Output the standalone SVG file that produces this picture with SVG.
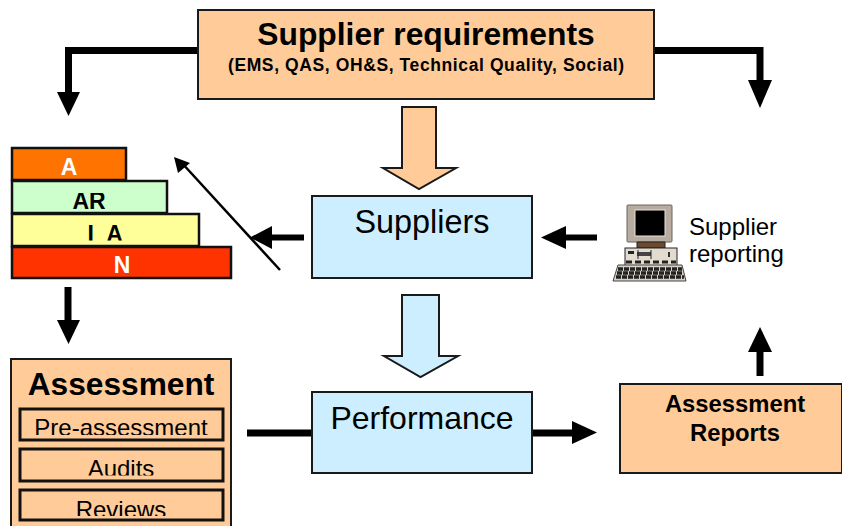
<svg xmlns="http://www.w3.org/2000/svg" width="842" height="526" viewBox="0 0 842 526">
<style>
text{font-family:"Liberation Sans",Arial,sans-serif;text-anchor:middle;fill:#000}
.b{font-weight:bold}
.peach{fill:#ffcc99;stroke:#1a1a1a;stroke-width:2}
.blue{fill:#cceeff;stroke:#1a1a1a;stroke-width:2}
.sub{fill:#ffcc99;stroke:#111;stroke-width:3}
.bar{fill:none;stroke:#000;stroke-width:7}
.ah{fill:#000}
.tier{stroke:#111;stroke-width:2.5}
</style>
<defs>
<clipPath id="c2"><rect x="12" y="193" width="155" height="16"/></clipPath>
<clipPath id="c3"><rect x="12" y="224" width="187" height="16.500"/></clipPath>
<clipPath id="c5"><rect x="20" y="410" width="203" height="25"/></clipPath>
<clipPath id="c6"><rect x="20" y="451" width="203" height="24.500"/></clipPath>
<clipPath id="c7"><rect x="20" y="491" width="203" height="25"/></clipPath>
</defs>
<g id="connectors">
<path class="bar" d="M198 50.500H68.500V95"/><polygon class="ah" points="57,92 80,92 68.500,116"/>
<path class="bar" d="M654 50.500H760V85"/><polygon class="ah" points="748,80 772,80 760,108"/>
<path class="peach" d="M402 107H436V168H456L419 189L383 168H402Z"/>
<path d="M402 295H439V356H458L420.500 377L384 356H402Z" fill="#cceeff" stroke="#1a1a1a" stroke-width="2"/>
<path d="M304 237.500H268" fill="none" stroke="#000" stroke-width="6"/><polygon class="ah" points="250,237.500 272,226 272,249"/>
<path d="M597 237.500H560" fill="none" stroke="#000" stroke-width="6"/><polygon class="ah" points="541,237.500 566,226 566,249"/>
<path d="M68 287V322" fill="none" stroke="#000" stroke-width="7"/><polygon class="ah" points="57,320 80,320 68.500,344"/>
<path d="M247 433H312" fill="none" stroke="#000" stroke-width="7"/>
<path d="M533 433H575" fill="none" stroke="#000" stroke-width="7"/><polygon class="ah" points="572,421 572,444 597,432.500"/>
<path d="M760 376V350" fill="none" stroke="#000" stroke-width="7"/><polygon class="ah" points="748,352 772,352 760,327"/>
<path d="M280 270L181 162" fill="none" stroke="#000" stroke-width="2.500"/><polygon class="ah" points="174,157 190,163 178,173"/>
</g>
<g id="supplier-requirements">
<rect class="peach" x="198" y="10" width="456" height="89"/>
<text class="b" x="426" y="45" font-size="31.800">Supplier requirements</text>
<text class="b" x="426" y="71" font-size="17.500" textLength="396">(EMS, QAS, OH&amp;S, Technical Quality, Social)</text>
</g>
<g id="tier-a">
<rect class="tier" x="12" y="148" width="114" height="32" fill="#ff7300"/>
<text class="b" x="69" y="175" font-size="23" style="fill:#fff">A</text>
</g>
<g id="tier-ar">
<rect class="tier" x="12" y="181" width="155" height="32" fill="#ccffcc"/>
<text class="b" x="89" y="208.500" font-size="23" clip-path="url(#c2)">AR</text>
</g>
<g id="tier-ia">
<rect class="tier" x="12" y="214" width="187" height="32" fill="#ffff99"/>
<text class="b" x="87.500" y="242" font-size="23" word-spacing="6.700" style="text-anchor:start" clip-path="url(#c3)">I A</text>
</g>
<g id="tier-n">
<rect class="tier" x="12" y="247" width="219" height="31" fill="#ff3300"/>
<text class="b" x="122" y="273" font-size="23" style="fill:#fff">N</text>
</g>
<g id="suppliers">
<rect class="blue" x="312" y="196" width="220" height="82"/>
<text x="422" y="233" font-size="32.400">Suppliers</text>
</g>
<g id="performance">
<rect class="blue" x="312" y="392" width="220" height="81"/>
<text x="422" y="429" font-size="32">Performance</text>
</g>
<g id="assessment-reports">
<rect class="peach" x="620" y="384" width="222" height="89"/>
<text class="b" x="735" y="412" font-size="23.800">Assessment</text>
<text class="b" x="735" y="441" font-size="23.800">Reports</text>
</g>
<g id="computer">
<rect x="627" y="205" width="45" height="37" rx="1" fill="#b8aca0" stroke="#6a625a" stroke-width="1"/>
<rect x="635" y="210" width="30" height="26" fill="#000" stroke="#e8e2da" stroke-width="1"/>
<path d="M637 242H665V248H637Z" fill="#6b4a2e" stroke="#222" stroke-width="1"/>
<rect x="625" y="248" width="52" height="18" fill="#e2dcd0" stroke="#222" stroke-width="1"/>
<rect x="628" y="251" width="6" height="3" fill="#222"/>
<rect x="637" y="252" width="14" height="4" fill="#444"/>
<path d="M651 250V259M638 250V259" stroke="#222" stroke-width="1"/>
<rect x="668" y="252" width="2" height="5" fill="#333"/>
<path d="M626 262H676" stroke="#222" stroke-width="3" stroke-dasharray="6 3"/>
<path d="M618 265H682L686 281H613Z" fill="#d8d0c4" stroke="#444" stroke-width="1"/>
<path d="M618 269H682M617 273H683M616 277H684" stroke="#222" stroke-width="3.500" stroke-dasharray="5 1"/>
</g>
<g id="supplier-reporting">
<text x="689" y="235" font-size="24" style="text-anchor:start">Supplier</text>
<text x="689" y="262" font-size="24" style="text-anchor:start">reporting</text>
</g>
<g id="assessment">
<rect class="peach" x="11" y="359" width="220" height="175"/>
<text class="b" x="121" y="395" font-size="31.700">Assessment</text>
</g>
<g id="pre-assessment">
<rect class="sub" x="20" y="409" width="203" height="31"/>
<text x="121" y="436" font-size="24" clip-path="url(#c5)">Pre-assessment</text>
</g>
<g id="audits">
<rect class="sub" x="20" y="449" width="203" height="32"/>
<text x="121" y="477" font-size="24" clip-path="url(#c6)">Audits</text>
</g>
<g id="reviews">
<rect class="sub" x="20" y="490" width="203" height="30"/>
<text x="121" y="518" font-size="24" clip-path="url(#c7)">Reviews</text>
</g>
</svg>
